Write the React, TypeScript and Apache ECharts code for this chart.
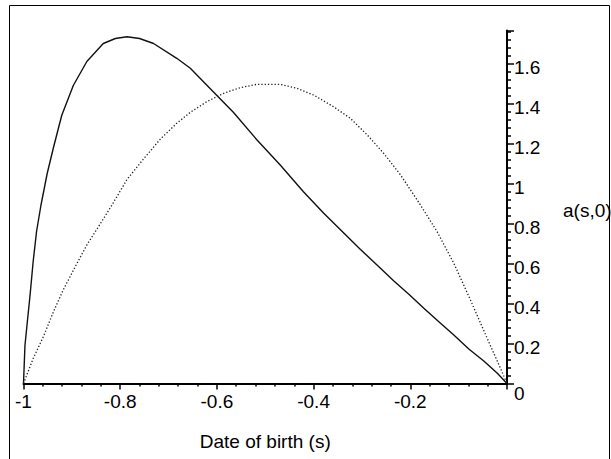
import React, { useEffect, useRef } from 'react';
import * as echarts from 'echarts';

// Solid curve: a(s,0)
const solidS = [-1, -0.997, -0.992, -0.9865, -0.98, -0.973, -0.964, -0.951, -0.938, -0.921, -0.897, -0.869, -0.835, -0.81, -0.786, -0.76, -0.731, -0.683, -0.655, -0.6, -0.566, -0.517, -0.469, -0.421, -0.379, -0.324, -0.303, -0.265, -0.234, -0.203, -0.172, -0.141, -0.11, -0.079, -0.048, -0.02, 0];
const solidA = [0, 0.19, 0.31, 0.44, 0.61, 0.76, 0.89, 1.05, 1.18, 1.34, 1.49, 1.61, 1.70, 1.725, 1.734, 1.725, 1.70, 1.626, 1.576, 1.44, 1.356, 1.2175, 1.0925, 0.959, 0.851, 0.72, 0.67, 0.584, 0.5125, 0.446, 0.376, 0.309, 0.2425, 0.1725, 0.1125, 0.051, 0];

// Dotted curve
const dottedS = [-1, -0.98, -0.959, -0.938, -0.918, -0.893, -0.869, -0.845, -0.817, -0.786, -0.752, -0.717, -0.683, -0.655, -0.621, -0.586, -0.552, -0.517, -0.469, -0.434, -0.4, -0.359, -0.324, -0.289, -0.255, -0.22, -0.179, -0.1445, -0.11, -0.0756, -0.041, -0.0135, 0];
const dottedA = [0, 0.125, 0.234, 0.359, 0.4675, 0.584, 0.6925, 0.784, 0.8925, 1.02, 1.122, 1.222, 1.301, 1.356, 1.409, 1.451, 1.479, 1.496, 1.496, 1.476, 1.4425, 1.384, 1.326, 1.2425, 1.151, 1.0425, 0.8925, 0.759, 0.601, 0.4175, 0.226, 0.076, 0];

const xAxisName = 'Date of birth (s)';
const yAxisName = 'a(s,0)';
const xMin = -1;
const xMax = 0;
const yMin = 0;
const yMax = 1.765;
const tickStep = 0.2;

const FONT = '"Liberation Sans", Arial, sans-serif';

export default function App() {
  const ref = useRef<HTMLDivElement>(null);
  useEffect(() => {
    if (!ref.current) return;
    const chart = echarts.init(ref.current, null, { renderer: 'svg' });
    const solid = solidS.map((s, i) => [s, solidA[i]]);
    const dotted = dottedS.map((s, i) => [s, dottedA[i]]);
    const axisLine = { lineStyle: { color: '#000', width: 2 } };
    chart.setOption({
      animation: false,
      backgroundColor: '#fff',
      textStyle: { fontFamily: FONT },
      grid: { left: 23.5, right: 104, top: 30.5, bottom: 75.5 },
      xAxis: {
        type: 'value',
        min: xMin,
        max: xMax,
        interval: tickStep,
        axisLine: { show: true, onZero: false, ...axisLine },
        axisTick: { show: true, length: 6, lineStyle: { color: '#000', width: 1.5 } },
        minorTick: { show: true, splitNumber: 5, length: 3, lineStyle: { color: '#000', width: 1.5 } },
        splitLine: { show: false },
        minorSplitLine: { show: false },
        axisLabel: { color: '#000', fontSize: 19, fontFamily: FONT, margin: 8, showMaxLabel: false },
        name: xAxisName,
        nameLocation: 'middle',
        nameGap: 48,
        nameTextStyle: { color: '#000', fontSize: 19, fontFamily: FONT },
      },
      yAxis: {
        type: 'value',
        position: 'right',
        min: yMin,
        max: yMax,
        interval: tickStep,
        axisLine: { show: true, onZero: false, ...axisLine },
        axisTick: { show: true, length: 7, lineStyle: { color: '#000', width: 1.5 } },
        minorTick: { show: true, splitNumber: 5, length: 4, lineStyle: { color: '#000', width: 1.5 } },
        splitLine: { show: false },
        minorSplitLine: { show: false },
        axisLabel: {
          color: '#000',
          fontSize: 19,
          fontFamily: FONT,
          margin: 7,
          padding: [7, 0, 0, 0],
          showMaxLabel: false,
          formatter: (v: number) => (v === 0 ? '{z|0}' : String(Number(v.toFixed(2)))),
          rich: { z: { fontSize: 19, fontFamily: FONT, color: '#000', padding: [12, 0, 0, 0] } },
        },
      },
      series: [
        {
          type: 'line',
          data: solid,
          showSymbol: false,
          symbol: 'none',
          lineStyle: { color: '#111', width: 1.4, join: 'round' },
        },
        {
          type: 'line',
          data: dotted,
          showSymbol: false,
          symbol: 'none',
          lineStyle: { color: '#222', width: 1.3, type: [1.3, 2] },
        },
      ],
      graphic: [
        {
          type: 'rect',
          silent: true,
          shape: { x: 9.5, y: 5.5, width: 600, height: 520 },
          style: { fill: 'none', stroke: '#000', lineWidth: 1 },
        },
        {
          type: 'text',
          left: 563,
          top: 201,
          style: { text: yAxisName, font: `19px ${FONT}`, fill: '#000' },
        },
      ],
    });
    return () => chart.dispose();
  }, []);
  return (
    <div
      ref={ref}
      style={{ position: 'fixed', left: 0, top: 0, width: 611, height: 459, background: '#fff' }}
    />
  );
}
